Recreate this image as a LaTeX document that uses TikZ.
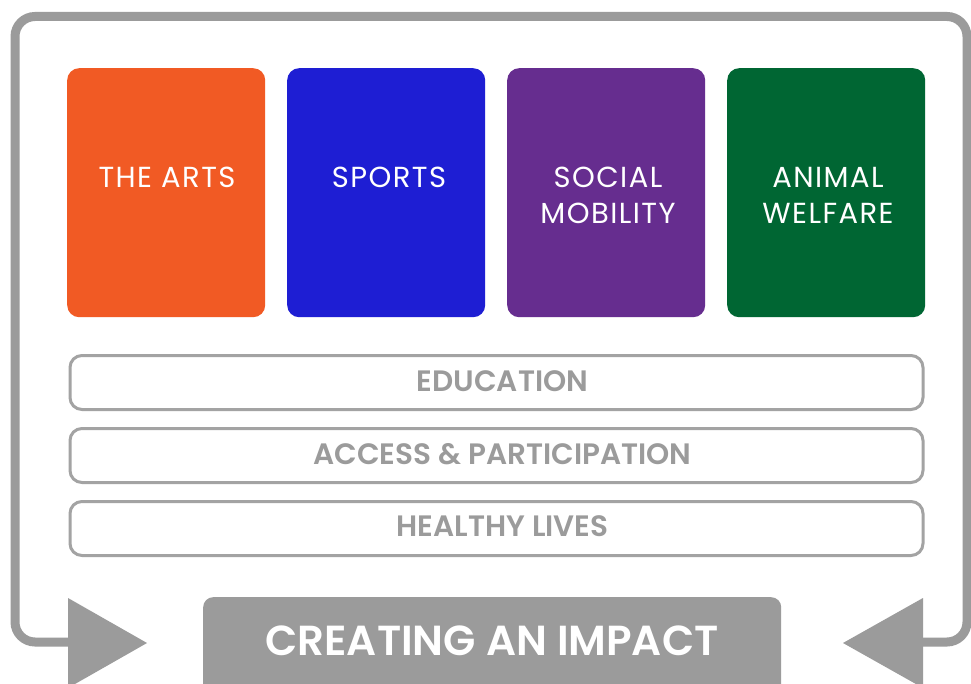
\documentclass[tikz,border=0pt]{standalone}
\usepackage{fontspec}
\setmainfont{Poppins}
\newfontfamily\psemi{Poppins SemiBold}
\newfontfamily\pspaced{Poppins}[LetterSpace=5]
\definecolor{frame}{HTML}{9B9B9B}
\definecolor{barline}{HTML}{A3A3A3}
\definecolor{bartext}{HTML}{9B9B9B}
\definecolor{cArts}{HTML}{F15A24}
\definecolor{cSports}{HTML}{1E1ED3}
\definecolor{cSocial}{HTML}{662D8F}
\definecolor{cAnimal}{HTML}{006633}
\begin{document}
\begin{tikzpicture}[x=1pt,y=-1pt,
  catbox/.style={fill=#1, rounded corners=12pt, minimum width=198pt, minimum height=249pt, inner sep=0pt, anchor=north west},
  cattext/.style={text=white, font=\pspaced\fontsize{29}{36}\selectfont, inner sep=0pt, anchor=base},
  barbox/.style={draw=barline, line width=3pt, rounded corners=12pt, fill=white, minimum width=853pt, minimum height=54pt, inner sep=0pt, anchor=north west},
  bartxt/.style={text=bartext, font=\psemi\fontsize{29.5}{32}\selectfont, inner sep=0pt},
  framepath/.style={draw=frame, line width=9pt, rounded corners=20pt},
  tri/.style={fill=frame}]
\useasboundingbox (0,0) rectangle (971,684);
\fill[white] (0,0) rectangle (971,684);
% outer frame
\draw[framepath] (70,642) -- (15,642) -- (15,16.5) -- (967,16.5) -- (967,642) -- (921,642);
% arrow triangles
\fill[tri] (68,598) -- (147,643) -- (68,688) -- cycle;
\fill[tri] (923,598) -- (843,643) -- (923,688) -- cycle;
% category boxes
\node[catbox=cArts] (arts) at (67,68) {};
\node[catbox=cSports] (sports) at (287,68) {};
\node[catbox=cSocial] (social) at (507,68) {};
\node[catbox=cAnimal] (animal) at (727,68) {};
\node[cattext] (artsT) at (167,188) {THE ARTS};
\node[cattext] (sportsT) at (389,188) {SPORTS};
\node[cattext] (socialT1) at (608,188) {SOCIAL};
\node[cattext] (socialT2) at (608,224) {MOBILITY};
\node[cattext] (animalT1) at (828,188) {ANIMAL};
\node[cattext] (animalT2) at (828,224) {WELFARE};
% bars
\node[barbox] (edu) at (68.5,354) {};
\node[barbox] (acc) at (68.5,427) {};
\node[barbox] (hea) at (68.5,500) {};
\node[bartxt] (eduT) at ([xshift=6pt,yshift=1pt]edu.center) {EDUCATION};
\node[bartxt] (accT) at ([xshift=6pt,yshift=1pt]acc.center) {ACCESS \& PARTICIPATION};
\node[bartxt] (heaT) at ([xshift=6pt,yshift=2pt]hea.center) {HEALTHY LIVES};
% impact box
\node[fill=frame, rounded corners=10pt, minimum width=578pt, minimum height=100pt, inner sep=0pt, anchor=north west] (impact) at (203,597) {};
\node[text=white, font=\psemi\fontsize{42}{48}\selectfont, inner sep=0pt] (impactT) at (492,641) {CREATING AN IMPACT};
\end{tikzpicture}
\end{document}
